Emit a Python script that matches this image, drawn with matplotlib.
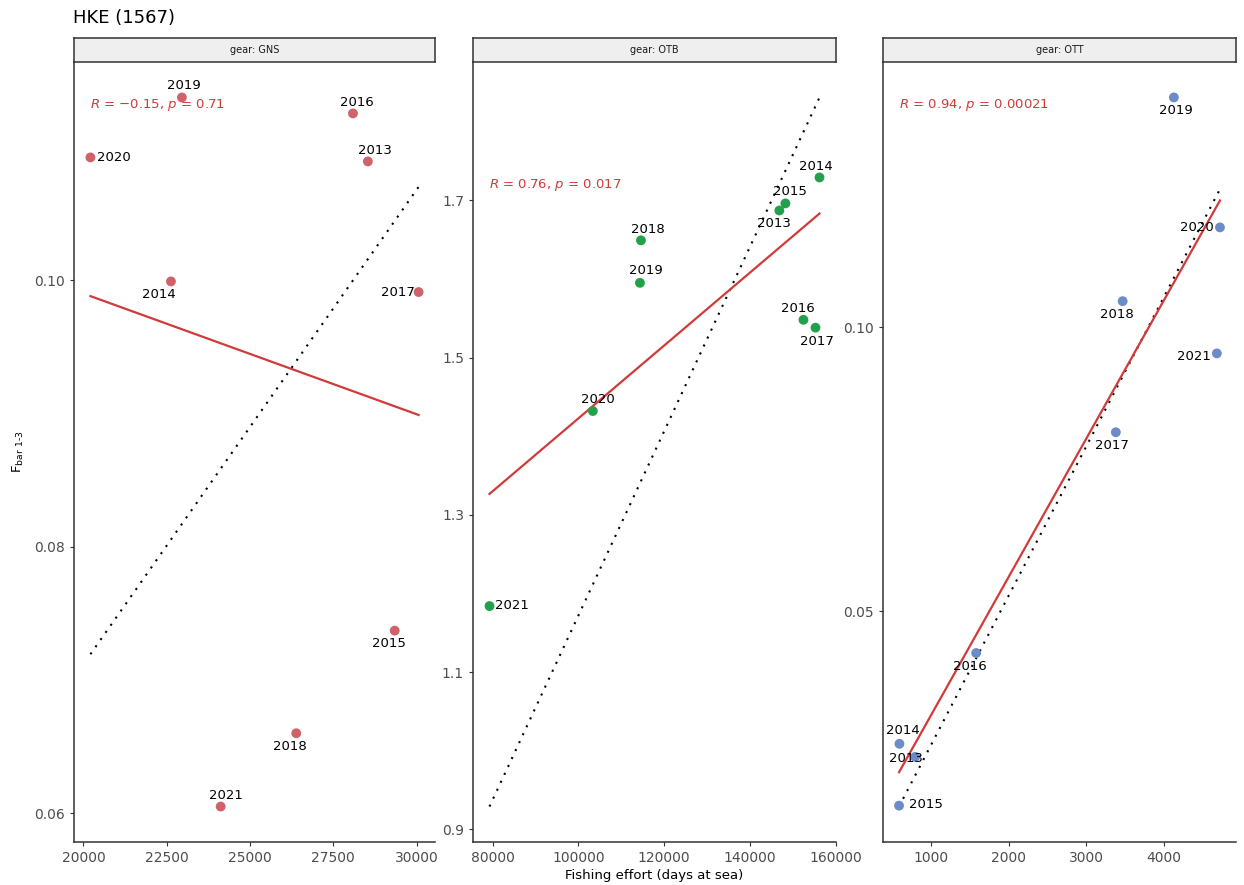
import numpy as np
import matplotlib
matplotlib.use("Agg")
import matplotlib.pyplot as plt

plt.rcParams['font.family'] = ['DejaVu Sans']
plt.rcParams['mathtext.fontset'] = 'dejavusans'

# ---------------- data ----------------
gears = ["GNS", "OTB", "OTT"]

years_gns = [2019, 2016, 2013, 2020, 2014, 2017, 2015, 2018, 2021]
effort_gns = [22955, 28090, 28537, 20209, 22627, 30060, 29343, 26388, 24119]
f_gns = [0.1137, 0.1125, 0.1089, 0.1092, 0.0999, 0.0991, 0.0737, 0.0660, 0.0605]

years_otb = [2014, 2015, 2013, 2018, 2019, 2016, 2017, 2020, 2021]
effort_otb = [156257, 148304, 146900, 114620, 114386, 152515, 155322, 103392, 79300]
f_otb = [1.729, 1.696, 1.687, 1.649, 1.595, 1.548, 1.538, 1.432, 1.184]

years_ott = [2019, 2020, 2018, 2021, 2017, 2016, 2014, 2013, 2015]
effort_ott = [4127, 4720, 3468, 4680, 3380, 1582, 595, 797, 590]
f_ott = [0.1405, 0.1176, 0.1046, 0.0954, 0.0815, 0.0426, 0.0266, 0.0243, 0.0157]

cor_labels = [r"$\it{R}$ = $-$0.15, $\it{p}$ = 0.71",
              r"$\it{R}$ = 0.76, $\it{p}$ = 0.017",
              r"$\it{R}$ = 0.94, $\it{p}$ = 0.00021"]

xticks = [[20000, 22500, 25000, 27500, 30000],
          [80000, 100000, 120000, 140000, 160000],
          [1000, 2000, 3000, 4000]]
yticks = [[0.06, 0.08, 0.10],
          [0.9, 1.1, 1.3, 1.5, 1.7],
          [0.05, 0.10]]
ytick_labels = [["0.06", "0.08", "0.10"],
                ["0.9", "1.1", "1.3", "1.5", "1.7"],
                ["0.05", "0.10"]]

# ---------------- style ----------------
colors = ["#D0626A", "#22A04A", "#6C8CC8"]
# label offsets (pixels) for year labels
label_offsets = [
    {2019: (2, 12), 2016: (4, 11), 2013: (7, 11), 2020: (23, 0), 2014: (-12, -13),
     2017: (-21, 0), 2015: (-6, -13), 2018: (-6, -13), 2021: (5, 11)},
    {2014: (-4, 11), 2015: (5, 12), 2013: (-5, -13), 2018: (7, 11), 2019: (6, 12),
     2016: (-6, 11), 2017: (1, -14), 2020: (5, 12), 2021: (22, 1)},
    {2019: (2, -13), 2020: (-23, 0), 2018: (-6, -13), 2021: (-23, -3), 2017: (-4, -13),
     2016: (-6, -13), 2014: (3, 13), 2013: (-9, -2), 2015: (27, 1)},
]

W, H = 1244, 885
fig = plt.figure(figsize=(W / 100, H / 100), dpi=100)

panel_px = [(74, 361), (473, 363), (883, 353)]
top_px, bot_px = 62, 842
strip_h = 24

datasets = [(years_gns, effort_gns, f_gns),
            (years_otb, effort_otb, f_otb),
            (years_ott, effort_ott, f_ott)]

for i, (gear, (yrs, xs, ys)) in enumerate(zip(gears, datasets)):
    xs = np.array(xs, float)
    ys = np.array(ys, float)
    left, width = panel_px[i]
    ax = fig.add_axes([left / W, (H - bot_px) / H, width / W, (bot_px - top_px) / H])

    # regression line
    slope, inter = np.polyfit(xs, ys, 1)
    xl = np.array([xs.min(), xs.max()])
    # proportional reference line: regression through the origin
    ratio = np.sum(xs * ys) / np.sum(xs * xs)
    yd = xl * ratio

    ax.plot(xl, yd, color="black", lw=1.5, linestyle=(0, (1, 3.2)), zorder=2)
    ax.plot(xl, inter + slope * xl, color="#D23A3A", lw=1.6, zorder=3)
    ax.scatter(xs, ys, s=50, color=colors[i], edgecolors="none", zorder=4)

    for yr, x, y in zip(yrs, xs, ys):
        dx, dy = label_offsets[i][yr]
        ax.annotate(str(yr), (x, y), xytext=(dx, dy), textcoords="offset pixels",
                    ha="center", va="center", fontsize=9.5, color="black", zorder=5)

    ax.text(xs.min(), ys.max(), cor_labels[i], ha="left", va="top",
            fontsize=9.5, color="#D23A3A", zorder=5)

    # limits with 5% expansion (ggplot style)
    allx = np.concatenate([xs, xl])
    ally = np.concatenate([ys, yd, inter + slope * xl])
    xr = allx.max() - allx.min()
    yr_ = ally.max() - ally.min()
    ax.set_xlim(allx.min() - 0.05 * xr, allx.max() + 0.05 * xr)
    ax.set_ylim(ally.min() - 0.05 * yr_, ally.max() + 0.05 * yr_)

    ax.set_xticks(xticks[i])
    ax.set_xticklabels([str(t) for t in xticks[i]])
    ax.set_yticks(yticks[i])
    ax.set_yticklabels(ytick_labels[i])
    ax.tick_params(axis="both", labelsize=10, colors="#333333", labelcolor="#4D4D4D",
                   length=3, width=0.8)
    for s in ["top", "right"]:
        ax.spines[s].set_visible(False)
    for s in ["left", "bottom"]:
        ax.spines[s].set_color("#333333")
        ax.spines[s].set_linewidth(1.1)

    # strip
    sax = fig.add_axes([left / W, (H - top_px) / H, width / W, strip_h / H])
    sax.set_facecolor("#EFEFEF")
    sax.set_xticks([])
    sax.set_yticks([])
    for s in sax.spines.values():
        s.set_color("#333333")
        s.set_linewidth(1.1)
    sax.text(0.5, 0.5, f"gear: {gear}", ha="center", va="center",
             fontsize=7, color="#1A1A1A", transform=sax.transAxes)

fig.text(73 / W, 1 - 18 / H, "HKE (1567)", ha="left", va="center", fontsize=13)
fig.text(654 / W, 1 - 876 / H, "Fishing effort (days at sea)", ha="center",
         va="center", fontsize=9.5)
fig.text(18 / W, 1 - 452 / H, "F$_{\\mathregular{bar\\ 1\u20103}}$", ha="center",
         va="center", rotation=90, fontsize=9.5)

fig.savefig("out.png", dpi=100)
